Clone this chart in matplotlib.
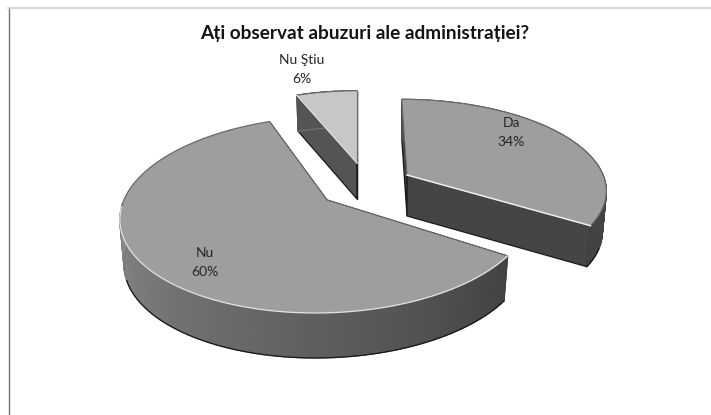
import matplotlib
matplotlib.use("Agg")
import matplotlib.pyplot as plt
import numpy as np

# === Data ===
title = "Ați observat abuzuri ale administrației?"
categories = ["Da", "Nu", "Nu Ştiu"]
values = [34, 60, 6]

# === Layout of each exploded slice (pixels) ===
apex_x = [407, 327, 357]
apex_y = [175, 200, 163]
rad_x = [196, 203, 186]
rad_y = [87, 96, 83]
shear = [-6, 10, 0]
depth = [41, 45, 36]
top_gray = [0.62, 0.62, 0.78]
wall_gray = [(0.30, 0.26), (0.26, 0.68), (0.33, 0.33)]
cut_gray = [0.27, 0.27, 0.33]
label_x = [511, 205, 302]
label_y = [123, 253, 60]
persp = 0.15


def project(i, theta, down=0.0):
    # theta is clockwise from the back of the disc
    s = 1.0 / (1.0 + persp * np.cos(theta))
    x = s * (rad_x[i] * np.sin(theta) + shear[i] * np.cos(theta))
    y = -s * rad_y[i] * np.cos(theta) + down
    if down:
        x = x * 0.98
    return apex_x[i] + x, apex_y[i] + y


fig = plt.figure(figsize=(7.11, 4.15), dpi=100)
ax = fig.add_axes([0, 0, 1, 1])
ax.set_xlim(0, 711)
ax.set_ylim(415, 0)
ax.axis("off")

# chart frame from the scan
ax.plot([8.5, 8.5], [8, 415], color="0.45", lw=1.0)
ax.plot([8, 711], [8, 8], color="0.82", lw=1.2)

# slice angles from the values
edges = np.cumsum([0] + values) / sum(values) * 2 * np.pi

# painter order: back to front
for i in [2, 0, 1]:
    theta = np.linspace(edges[i], edges[i + 1], 120)
    ax_x, ax_y = apex_x[i], apex_y[i]
    d = depth[i]

    # cut faces
    for t in [edges[i], edges[i + 1]]:
        ex, ey = project(i, t)
        bx, by = project(i, t, d)
        ax.fill([ax_x, ex, bx, ax_x], [ax_y, ey, by, ax_y + d],
                color=str(cut_gray[i]), ec="0.1", lw=0.9, zorder=1)

    # outer wall, shaded along the arc
    g0, g1 = wall_gray[i]
    for k in range(len(theta) - 1):
        xa, ya = project(i, theta[k])
        xb, yb = project(i, theta[k + 1])
        xc, yc = project(i, theta[k + 1], d)
        xd, yd = project(i, theta[k], d)
        g = g0 + (g1 - g0) * k / (len(theta) - 2)
        ax.fill([xa, xb, xc, xd], [ya, yb, yc, yd], color=str(round(g, 3)),
                lw=1.0, zorder=1)
    bot_x, bot_y = project(i, theta, d)
    low = np.cos(theta) < -0.35
    ax.plot(bot_x[low], bot_y[low], color="0.1", lw=0.9, zorder=1)
    side = (np.cos(theta) >= -0.35) & (np.sin(theta) < 0)
    ax.plot(bot_x[side], bot_y[side], color="0.45", lw=0.8, zorder=1)

    # top face
    arc_x, arc_y = project(i, theta)
    ax.fill(np.r_[ax_x, arc_x], np.r_[ax_y, arc_y], color=str(top_gray[i]),
            lw=0, zorder=2)
    ax.plot(arc_x, arc_y, color="0.42", lw=0.8, zorder=2)
    ax.plot([ax_x, arc_x[0]], [ax_y, arc_y[0]], color="0.42", lw=0.8, zorder=2)
    ax.plot([ax_x, arc_x[-1]], [ax_y, arc_y[-1]], color="0.42", lw=0.8, zorder=2)

    # light rim on the front edges
    front = np.cos(theta) < -0.05
    if i == 1:
        ax.plot(arc_x[front], arc_y[front], color="0.88", lw=1.0, zorder=2)
    elif i == 0:
        ax.plot([ax_x, arc_x[-1]], [ax_y, arc_y[-1]], color="0.95", lw=1.1, zorder=2)
    else:
        ax.plot([ax_x, arc_x[0]], [ax_y, arc_y[0]], color="0.9", lw=1.0, zorder=2)

# === Text ===
ax.text(365, 33, title, ha="center", va="center", family="Lato",
        fontweight="bold", fontsize=13.7, color="0.08", zorder=3)
for i, cat in enumerate(categories):
    ax.text(label_x[i], label_y[i], cat, ha="center", va="center", family="Lato",
            fontsize=10, color="0.15", zorder=3)
    ax.text(label_x[i], label_y[i] + 19, f"{values[i]}%", ha="center", va="center",
            family="Lato", fontsize=10, color="0.15", zorder=3)

fig.savefig("out.png", dpi=100)
